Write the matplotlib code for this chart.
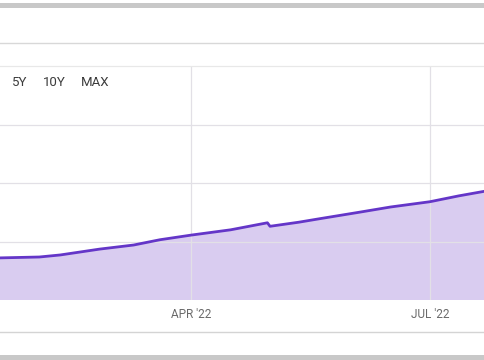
import matplotlib
matplotlib.use("Agg")
import matplotlib.pyplot as plt
import pandas as pd
from matplotlib.lines import Line2D
from matplotlib.patches import Rectangle

# values (units = one gridline step)
dates = [
    "2022-01-18", "2022-02-02", "2022-02-10", "2022-02-25", "2022-03-10",
    "2022-03-20", "2022-04-01", "2022-04-16", "2022-04-30", "2022-05-01",
    "2022-05-12", "2022-05-20", "2022-06-04", "2022-06-16", "2022-07-01",
    "2022-07-12", "2022-07-22",
]
values = [
    0.72, 0.735, 0.77, 0.87, 0.94,
    1.03, 1.11, 1.20, 1.32, 1.26,
    1.33, 1.39, 1.50, 1.59, 1.68,
    1.78, 1.86,
]
tick_dates = ["2022-04-01", "2022-07-01"]
tick_labels = ["APR '22", "JUL '22"]
range_buttons = ["5Y", "10Y", "MAX"]

x = pd.to_datetime(dates)
ticks = pd.to_datetime(tick_dates)

plt.rcParams["font.family"] = ["Roboto", "DejaVu Sans"]

W, H = 485, 360
fig = plt.figure(figsize=(W / 100, H / 100), dpi=100)
fig.patch.set_facecolor("white")

# plot area: pixel rows 66 (top) to 300 (bottom), full width
ax = fig.add_axes([0, (H - 300) / H, 1, (300 - 66) / H])
ax.fill_between(x, values, 0, color="#d9ccf0", lw=0, zorder=1)
ax.plot(x, values, color="#6436c8", lw=2.0, solid_capstyle="round", zorder=3)

ax.set_xlim(pd.Timestamp("2022-01-18"), pd.Timestamp("2022-07-22"))
ax.set_ylim(0, 4)
ax.set_yticks([1, 2, 3])
ax.set_xticks(ticks)
ax.set_xticklabels(tick_labels, color="#6a6a6a", fontsize=8.5)
ax.tick_params(axis="x", length=0, pad=6)
ax.tick_params(axis="y", length=0, labelleft=False)
ax.grid(True, color="#e2e0e6", lw=0.9, zorder=2)
for name, sp in ax.spines.items():
    sp.set_visible(name == "top")
ax.spines["top"].set_color("#e8e8e8")
ax.spines["top"].set_linewidth(0.9)

# range selector text
xs = [12, 43, 81]
for px, lab in zip(xs, range_buttons):
    fig.text(px / W, 1 - 82 / H, lab, fontsize=9.5, color="#3c3c3c",
             va="center", ha="left")

# page chrome: grey bars and separator lines
fig.add_artist(Rectangle((0, 1 - 8 / H), 1, 5 / H, transform=fig.transFigure,
                         color="#c8c8c8", lw=0))
fig.add_artist(Rectangle((0, 0), 1, 5 / H, transform=fig.transFigure,
                         color="#c8c8c8", lw=0))
fig.add_artist(Line2D([0, 1], [1 - 43 / H, 1 - 43 / H], transform=fig.transFigure,
                      color="#d8d8d8", lw=1))
fig.add_artist(Line2D([0, 1], [1 - 332 / H, 1 - 332 / H], transform=fig.transFigure,
                      color="#d4d4d4", lw=1))

fig.savefig("out.png", dpi=100)
